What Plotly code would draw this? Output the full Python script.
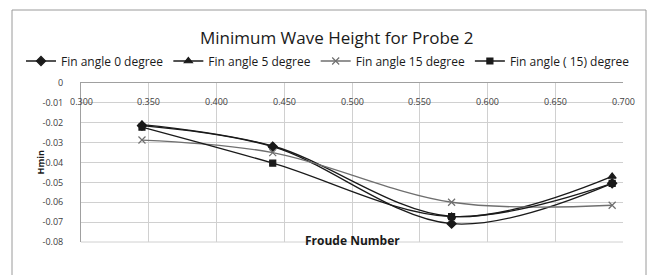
import plotly.graph_objects as go

froude = [0.345, 0.4415, 0.5735, 0.692]
fin0 = [-0.0214, -0.0320, -0.0708, -0.0505]
fin5 = [-0.0209, -0.0317, -0.0671, -0.0470]
fin15 = [-0.0287, -0.0350, -0.0600, -0.0615]
finm15 = [-0.0222, -0.0403, -0.0672, -0.0505]

series_names = ["Fin angle 0 degree", "Fin angle 5 degree", "Fin angle 15 degree", "Fin angle ( 15) degree"]
xticks = [0.30, 0.35, 0.40, 0.45, 0.50, 0.55, 0.60, 0.65, 0.70]
xticktext = ["0.300", "0.350", "0.400", "0.450", "0.500", "0.550", "0.600", "0.650", "0.700"]
yticks = [0.0, -0.01, -0.02, -0.03, -0.04, -0.05, -0.06, -0.07, -0.08]
yticktext = ["0", "-0.01", "-0.02", "-0.03", "-0.04", "-0.05", "-0.06", "-0.07", "-0.08"]

FONT = "Open Sans"
L, R, T, B = 81, 31, 83, 33
W, H = 654, 275
PW, PH = W - L - R, H - T - B

def px(x):
    return (x - L) / PW

def py(y):
    return (H - B - y) / PH

styles = [
    (fin0, "diamond", "#1a1a1a", 7),
    (fin5, "triangle-up", "#1a1a1a", 7),
    (fin15, "x-thin-open", "#6f6f6f", 7),
    (finm15, "square", "#1a1a1a", 6),
]

fig = go.Figure()
for name, (vals, sym, col, sz) in zip(series_names, styles):
    fig.add_trace(go.Scatter(
        x=froude, y=vals, name=name, mode="lines+markers",
        line=dict(color=col, width=1.3, shape="spline", smoothing=1.0),
        marker=dict(symbol=sym, size=sz, color=col, line=dict(color=col, width=1.2)),
    ))

annotations = [
    dict(text=t, xref="x", yref="paper", x=v, y=py(93), showarrow=False,
         font=dict(size=9, color="#404040"))
    for v, t in zip(xticks, xticktext)
]
annotations += [
    dict(text="Minimum Wave Height for Probe 2", xref="paper", yref="paper", x=px(337), y=py(37),
         xanchor="center", yanchor="middle", showarrow=False,
         font=dict(size=17, color="#1a1a1a", family=FONT)),
    dict(text="<b>Froude Number</b>", xref="paper", yref="paper", x=px(352), y=py(251),
         showarrow=False, font=dict(size=12, color="#1a1a1a")),
    dict(text="<b>Hmin</b>", xref="paper", yref="paper", x=px(31), y=py(163), textangle=-90,
         showarrow=False, font=dict(size=9, color="#1a1a1a")),
]

fig.update_layout(
    width=W, height=H,
    margin=dict(l=L, r=R, t=T, b=B),
    paper_bgcolor="white", plot_bgcolor="white",
    font=dict(family=FONT, color="#404040", size=9),
    showlegend=True,
    legend=dict(orientation="h", x=px(21), xanchor="left", y=py(61), yanchor="middle",
                font=dict(size=12, color="#1a1a1a", family=FONT), itemwidth=30,
                tracegroupgap=0, bgcolor="rgba(0,0,0,0)"),
    xaxis=dict(range=[0.3, 0.7], side="top", tickvals=xticks, showticklabels=False,
               showgrid=True, gridcolor="#d0d0d0", gridwidth=1,
               zeroline=False, showline=True, linecolor="#a0a0a0", linewidth=1,
               ticks="", fixedrange=True),
    yaxis=dict(range=[-0.08, 0.0], tickvals=yticks, ticktext=yticktext,
               showgrid=True, gridcolor="#d0d0d0", gridwidth=1, zeroline=False,
               showline=True, linecolor="#a0a0a0", linewidth=1,
               ticks="", ticklabelstandoff=15,
               tickfont=dict(size=9, color="#404040"), fixedrange=True),
    shapes=[
        dict(type="rect", xref="paper", yref="paper", x0=px(12), x1=px(646), y0=py(285), y1=py(10),
             line=dict(color="#9a9a9a", width=1), fillcolor="rgba(0,0,0,0)", layer="below"),
        dict(type="line", xref="paper", yref="paper", x0=0, x1=1, y0=0, y1=0,
             line=dict(color="#d0d0d0", width=1)),
    ],
    annotations=annotations,
)

fig.write_html("out.html", config={"displayModeBar": False},
               post_script="document.body.style.margin='0';document.body.style.overflow='hidden';")
